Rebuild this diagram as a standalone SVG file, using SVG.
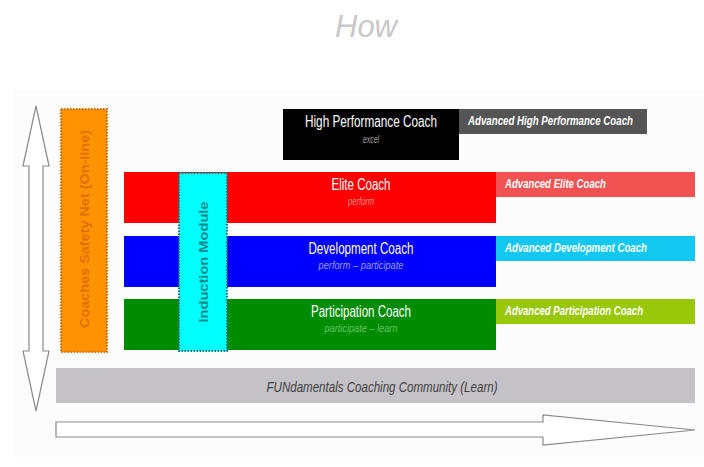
<svg xmlns="http://www.w3.org/2000/svg" width="704" height="467" viewBox="0 0 704 467">
<style>
text{font-family:"Liberation Sans",Arial,sans-serif}
.main{fill:#fff;font-size:16px;text-anchor:middle}
.sub{font-size:11px;font-style:italic;text-anchor:middle}
.adv{fill:#fff;font-size:13px;font-style:italic;font-weight:bold}
.arrow{fill:#fff;stroke:#8a8a8a;stroke-width:1.2}
.vert{font-weight:bold;font-size:13px;text-anchor:middle}
</style>
<rect width="704" height="467" fill="#fff"/>
<rect x="14" y="90" width="690" height="367" fill="#fcfcfc"/>
<text x="366" y="37" font-size="32" font-style="italic" fill="#c8c8c8" text-anchor="middle" textLength="62" lengthAdjust="spacingAndGlyphs">How</text>
<g id="connectors">
<polygon class="arrow" points="36,106 49,166 43,166 43,351 49,351 36,411 23,351 29,351 29,166 23,166"/>
<polygon class="arrow" points="56,422 543,422 543,415 695,430 543,445 543,437 56,437"/>
</g>
<g id="high-performance">
<rect x="283" y="109" width="176" height="51" fill="#000"/>
<text class="main" x="371" y="127" textLength="132" lengthAdjust="spacingAndGlyphs">High Performance Coach</text>
<text class="sub" x="371" y="143" fill="#a0a0a0" textLength="16" lengthAdjust="spacingAndGlyphs">excel</text>
</g>
<g id="adv-high-performance">
<rect x="459" y="109" width="188" height="25" fill="#555"/>
<text class="adv" x="468" y="125" textLength="165" lengthAdjust="spacingAndGlyphs">Advanced High Performance Coach</text>
</g>
<g id="elite">
<rect x="124" y="172" width="372" height="51" fill="#f00"/>
<text class="main" x="361" y="190" textLength="59" lengthAdjust="spacingAndGlyphs">Elite Coach</text>
<text class="sub" x="361" y="205" fill="#ff8a8a" textLength="26" lengthAdjust="spacingAndGlyphs">perform</text>
</g>
<g id="adv-elite">
<rect x="496" y="172" width="199" height="25" fill="#f25252"/>
<text class="adv" x="505" y="188" textLength="101" lengthAdjust="spacingAndGlyphs">Advanced Elite Coach</text>
</g>
<g id="development">
<rect x="124" y="236" width="372" height="51" fill="#00f"/>
<text class="main" x="361" y="254" textLength="105" lengthAdjust="spacingAndGlyphs">Development Coach</text>
<text class="sub" x="361" y="269" fill="#9a9aff" textLength="85" lengthAdjust="spacingAndGlyphs">perform – participate</text>
</g>
<g id="adv-development">
<rect x="496" y="236" width="199" height="25" fill="#12c8f0"/>
<text class="adv" x="505" y="252" textLength="142" lengthAdjust="spacingAndGlyphs">Advanced Development Coach</text>
</g>
<g id="participation">
<rect x="124" y="299" width="372" height="51" fill="#008c00"/>
<text class="main" x="361" y="317" textLength="100" lengthAdjust="spacingAndGlyphs">Participation Coach</text>
<text class="sub" x="361" y="332" fill="#66c266" textLength="73" lengthAdjust="spacingAndGlyphs">participate – learn</text>
</g>
<g id="adv-participation">
<rect x="496" y="299" width="199" height="25" fill="#99c80a"/>
<text class="adv" x="505" y="315" textLength="138" lengthAdjust="spacingAndGlyphs">Advanced Participation Coach</text>
</g>
<g id="induction-module">
<rect x="179" y="173" width="48" height="178" fill="#00ffff" stroke="#1c6f80" stroke-width="2" stroke-dasharray="1.5 1.5"/>
<text class="vert" transform="translate(208,262) rotate(-90)" fill="#0c8a8c" textLength="121" lengthAdjust="spacingAndGlyphs">Induction Module</text>
</g>
<g id="safety-net">
<rect x="61" y="109" width="46" height="243" fill="#ff9200" stroke="#d86a00" stroke-width="2" stroke-dasharray="1.5 1.5"/>
<text class="vert" transform="translate(89,229) rotate(-90)" fill="#e07000" textLength="198" lengthAdjust="spacingAndGlyphs">Coaches Safety Net (On-line)</text>
</g>
<g id="fundamentals">
<rect x="56" y="368" width="639" height="35" fill="#c5c2c7"/>
<text x="382" y="392" font-size="15" font-style="italic" fill="#404040" text-anchor="middle" textLength="231" lengthAdjust="spacingAndGlyphs">FUNdamentals Coaching Community (Learn)</text>
</g>
</svg>
